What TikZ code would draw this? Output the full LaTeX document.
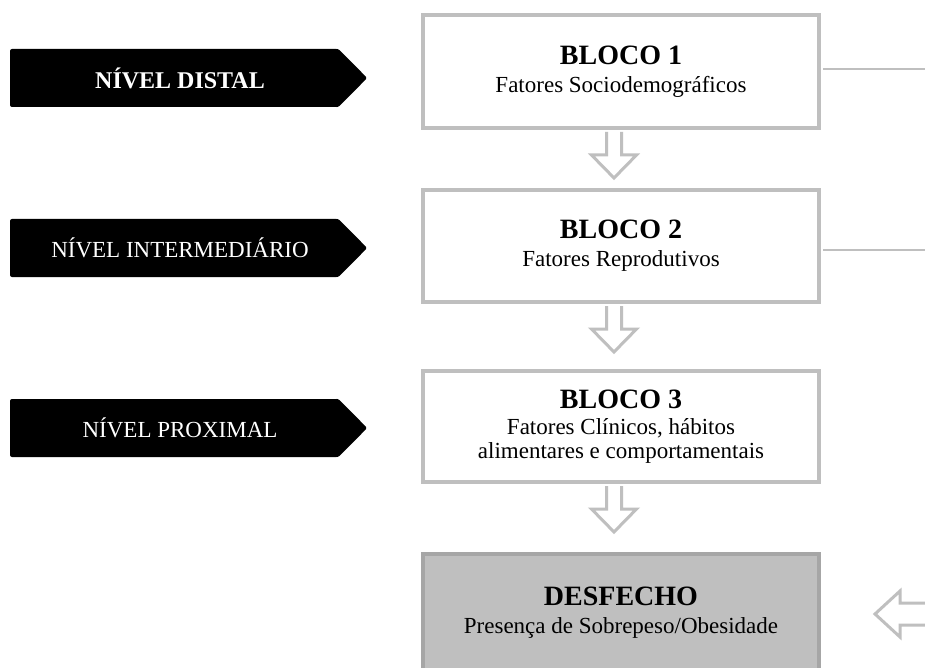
\documentclass[tikz,border=0pt]{standalone}
\usepackage{fontspec}
\setmainfont{Liberation Serif}
\usetikzlibrary{calc}
\definecolor{boxgray}{HTML}{BFBFBF}
\definecolor{outgray}{HTML}{A6A6A6}
\tikzset{
  blocobox/.style={draw=boxgray, line width=4pt, fill=white, minimum width=396pt, align=center, inner sep=0pt},
  outbox/.style={draw=outgray, line width=4pt, fill=boxgray, minimum width=396pt, align=center, inner sep=0pt},
  lvlbox/.style={fill=black, text=white, minimum width=328pt, minimum height=58pt, inner sep=0pt, rounded corners=2pt},
  blockarrow/.style={draw=boxgray, line width=3pt, fill=white, line join=miter},
  sideline/.style={draw=boxgray, line width=2.5pt},
}
\newcommand{\hd}[1]{{\fontsize{28}{30}\selectfont\bfseries #1}}
\newcommand{\downblock}[1]{%
  \draw[blockarrow] ($(#1.south)+(-14.5pt,-2pt)$) -- ++(0,-23pt) -- ++(-15pt,0) -- ++(22.5pt,-23pt) -- ++(22.5pt,23pt) -- ++(-15pt,0) -- ++(0,23pt);}
\begin{document}
\begin{tikzpicture}[x=1pt,y=1pt, font=\fontsize{23}{27}\selectfont]
\clip (0,0) rectangle (925,-668);
\fill[white] (0,0) rectangle (925,-668);

% level labels
\node[lvlbox, font=\fontsize{24}{27}\selectfont\bfseries] (l1) at (174,-78) {\hspace*{12pt}NÍVEL DISTAL};
\node[lvlbox] (l2) at (174,-248) {\hspace*{12pt}NÍVEL INTERMEDIÁRIO};
\node[lvlbox] (l3) at (174,-428) {\hspace*{12pt}NÍVEL PROXIMAL};
\foreach \n in {l1,l2,l3}{
  \fill[black, rounded corners=1.5pt] ($(\n.north east)+(-3pt,0)$) -- (\n.north east) -- ($(\n.east)+(29pt,0)$) -- (\n.south east) -- ($(\n.south east)+(-3pt,0)$) -- cycle;
}

% blocks
\node[blocobox, minimum height=113pt] (b1) at (621,-71.5) {\hd{BLOCO 1}\\[1pt]Fatores Sociodemográficos};
\node[blocobox, minimum height=112pt] (b2) at (621,-246) {\hd{BLOCO 2}\\[1pt]Fatores Reprodutivos};
\node[blocobox, minimum height=111pt] (b3) at (621,-426.5) {\hd{BLOCO 3}\\[-1pt]Fatores Clínicos, hábitos\\[-3pt]alimentares e comportamentais};
\node[outbox, minimum height=118pt] (d) at (621,-613) {\hd{DESFECHO}\\[1pt]Presença de Sobrepeso/Obesidade};

% side lines
\coordinate (r1) at (930,-69);
\coordinate (r2) at (930,-250);
\draw[sideline] ($(b1.east)+(2pt,2.5pt)$) -- (r1);
\draw[sideline] ($(b2.east)+(2pt,-4pt)$) -- (r2);

% down arrows
\downblock{b1}
\downblock{b2}
\downblock{b3}

% side arrow pointing to outcome
\coordinate (sa) at (875,-614);
\draw[blockarrow] ($(sa)+(60pt,11pt)$) -- ($(sa)+(25pt,11pt)$) -- ($(sa)+(25pt,23pt)$) -- (sa) -- ($(sa)+(25pt,-23pt)$) -- ($(sa)+(25pt,-11pt)$) -- ($(sa)+(60pt,-11pt)$);
\end{tikzpicture}
\end{document}
